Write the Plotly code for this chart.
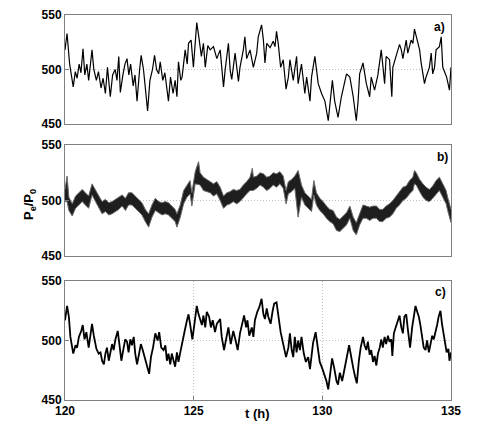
import plotly.graph_objects as go

# ---------------- data ----------------
t_a = [120.00, 120.08, 120.18, 120.25, 120.32, 120.40, 120.47, 120.55, 120.62, 120.70,
       120.77, 120.85, 120.92, 121.05, 121.12, 121.22, 121.30, 121.40, 121.48, 121.57,
       121.65, 121.76, 121.85, 121.95, 122.02, 122.09, 122.15, 122.25, 122.33, 122.41,
       122.48, 122.55, 122.65, 122.72, 122.80, 122.90, 122.96, 123.05, 123.12, 123.21,
       123.30, 123.40, 123.48, 123.56, 123.64, 123.70, 123.80, 123.88, 124.02, 124.10,
       124.20, 124.28, 124.35, 124.41, 124.50, 124.55, 124.67, 124.75, 124.80, 124.90,
       124.99, 125.05, 125.12, 125.20, 125.30, 125.38, 125.45, 125.55, 125.64, 125.77,
       125.90, 126.03, 126.16, 126.22, 126.35, 126.42, 126.48, 126.61, 126.74, 126.80,
       126.93, 126.99, 127.06, 127.19, 127.32, 127.45, 127.51, 127.64, 127.71, 127.77,
       127.84, 127.97, 128.09, 128.16, 128.22, 128.29, 128.38, 128.48, 128.59, 128.68,
       128.74, 128.87, 129.00, 129.06, 129.19, 129.32, 129.39, 129.52, 129.58, 129.71,
       129.84, 129.97, 130.10, 130.23, 130.29, 130.39, 130.48, 130.61, 130.74, 130.87,
       130.94, 131.07, 131.20, 131.32, 131.39, 131.45, 131.58, 131.71, 131.84, 131.90,
       132.03, 132.16, 132.29, 132.42, 132.48, 132.61, 132.70, 132.74, 132.87, 133.00,
       133.07, 133.13, 133.26, 133.32, 133.45, 133.52, 133.58, 133.65, 133.78, 133.84,
       133.97, 134.03, 134.16, 134.23, 134.29, 134.36, 134.42, 134.55, 134.62, 134.68,
       134.74, 134.83, 134.94, 135.00]
p_a = [518, 533, 505, 496, 484, 498, 492, 505, 497, 519,
       495, 505, 490, 518, 500, 490, 498, 483, 492, 478,
       502, 475, 495, 500, 490, 512, 479, 495, 505, 510,
       495, 505, 485, 495, 471, 500, 513, 500, 485, 462,
       490, 500, 513, 500, 496, 507, 490, 497, 471, 493,
       478, 490, 475, 507, 490, 493, 518, 505, 524, 527,
       502, 518, 543, 530, 512, 524, 502, 522, 518, 521,
       510, 518, 484, 499, 524, 499, 491, 515, 489, 502,
       518, 530, 510, 518, 502, 515, 530, 541, 527, 506,
       524, 520, 526, 521, 535, 523, 502, 509, 482, 493,
       509, 490, 512, 487, 505, 478, 493, 471, 493, 512,
       487, 478, 471, 453, 465, 490, 471, 456, 475, 487,
       496, 493, 475, 453, 471, 496, 506, 487, 475, 493,
       481, 495, 518, 487, 512, 509, 475, 502, 512, 523,
       518, 510, 527, 515, 527, 524, 537, 530, 518, 506,
       487, 493, 502, 515, 496, 502, 518, 521, 530, 502,
       499, 493, 481, 502]

t_b = [120.00, 120.08, 120.15, 120.28, 120.41, 120.54, 120.67, 120.79, 120.92, 121.05,
       121.18, 121.31, 121.44, 121.57, 121.70, 121.83, 121.96, 122.09, 122.22, 122.35,
       122.47, 122.60, 122.73, 122.86, 122.99, 123.12, 123.25, 123.38, 123.51, 123.64,
       123.77, 123.90, 124.02, 124.15, 124.28, 124.35, 124.48, 124.61, 124.74, 124.86,
       124.93, 125.06, 125.19, 125.25, 125.38, 125.51, 125.64, 125.77, 125.90, 126.03,
       126.16, 126.29, 126.42, 126.54, 126.67, 126.80, 126.93, 127.06, 127.19, 127.28,
       127.32, 127.45, 127.58, 127.71, 127.84, 127.97, 128.09, 128.22, 128.35, 128.48,
       128.59, 128.68, 128.81, 128.93, 129.06, 129.19, 129.32, 129.45, 129.58, 129.67,
       129.77, 129.90, 130.03, 130.16, 130.29, 130.42, 130.55, 130.68, 130.81, 130.94,
       131.07, 131.20, 131.32, 131.45, 131.58, 131.71, 131.84, 131.97, 132.10, 132.23,
       132.35, 132.48, 132.61, 132.74, 132.87, 133.00, 133.13, 133.26, 133.39, 133.52,
       133.58, 133.65, 133.78, 133.91, 134.03, 134.16, 134.29, 134.42, 134.55, 134.68,
       134.81, 134.87, 134.94, 135.00]
p_b_hi = [510, 522, 503, 497, 504, 507, 510, 507, 504, 515,
          510, 504, 499, 501, 498, 499, 501, 503, 505, 502,
          507, 507, 504, 501, 498, 492, 488, 496, 502, 499,
          498, 499, 498, 495, 492, 488, 496, 509, 514, 518,
          507, 526, 535, 525, 521, 519, 517, 515, 517, 512,
          504, 507, 508, 510, 509, 510, 514, 517, 521, 529,
          521, 522, 525, 524, 521, 522, 525, 524, 526, 522,
          509, 517, 519, 522, 527, 514, 507, 504, 501, 518,
          507, 502, 499, 495, 492, 491, 485, 483, 486, 489,
          495, 485, 480, 489, 496, 495, 494, 495, 495, 492,
          492, 495, 497, 500, 504, 507, 512, 513, 518, 521,
          527, 525, 519, 515, 512, 510, 513, 518, 521, 515,
          509, 503, 497, 492]
p_b_lo = [499, 499, 491, 486, 493, 496, 499, 496, 493, 505,
          499, 493, 488, 490, 487, 488, 490, 492, 495, 491,
          496, 496, 493, 490, 487, 481, 476, 485, 491, 489,
          487, 488, 487, 484, 481, 476, 485, 497, 503, 506,
          495, 515, 514, 514, 509, 508, 507, 504, 506, 500,
          493, 496, 497, 499, 497, 499, 503, 506, 509, 509,
          509, 511, 514, 512, 509, 511, 514, 512, 515, 511,
          497, 506, 508, 511, 485, 503, 496, 493, 490, 505,
          496, 491, 488, 484, 481, 479, 473, 472, 475, 478,
          484, 473, 469, 478, 484, 484, 482, 484, 484, 481,
          481, 484, 485, 488, 493, 496, 500, 502, 506, 509,
          515, 514, 508, 503, 500, 499, 502, 506, 509, 503,
          497, 491, 485, 480]

t_c = [120.00, 120.08, 120.15, 120.21, 120.32, 120.41, 120.47, 120.54, 120.63, 120.69,
       120.76, 120.83, 120.92, 120.99, 121.05, 121.12, 121.22, 121.31, 121.38, 121.44,
       121.51, 121.57, 121.63, 121.70, 121.76, 121.83, 121.89, 121.96, 122.05, 122.13,
       122.19, 122.28, 122.34, 122.41, 122.47, 122.54, 122.60, 122.67, 122.73, 122.80,
       122.89, 122.95, 123.02, 123.12, 123.18, 123.27, 123.34, 123.42, 123.51, 123.60,
       123.66, 123.74, 123.83, 123.90, 123.96, 124.02, 124.09, 124.15, 124.22, 124.28,
       124.35, 124.41, 124.48, 124.57, 124.65, 124.74, 124.80, 124.86, 124.95, 125.03,
       125.12, 125.19, 125.25, 125.32, 125.38, 125.45, 125.51, 125.60, 125.67, 125.74,
       125.83, 125.90, 126.03, 126.09, 126.18, 126.26, 126.35, 126.44, 126.54, 126.63,
       126.71, 126.80, 126.87, 126.96, 127.04, 127.09, 127.16, 127.26, 127.32, 127.38,
       127.47, 127.55, 127.64, 127.71, 127.77, 127.84, 127.90, 127.99, 128.07, 128.13,
       128.22, 128.29, 128.38, 128.48, 128.59, 128.68, 128.74, 128.81, 128.87, 128.93,
       129.00, 129.06, 129.13, 129.19, 129.28, 129.36, 129.45, 129.52, 129.58, 129.64,
       129.74, 129.81, 129.90, 129.99, 130.07, 130.16, 130.23, 130.29, 130.38, 130.46,
       130.55, 130.61, 130.68, 130.77, 130.87, 130.96, 131.04, 131.11, 131.20, 131.27,
       131.34, 131.42, 131.49, 131.58, 131.64, 131.71, 131.77, 131.84, 131.90, 131.97,
       132.03, 132.10, 132.16, 132.23, 132.29, 132.35, 132.42, 132.48, 132.55, 132.61,
       132.68, 132.72, 132.78, 132.85, 132.94, 133.00, 133.07, 133.13, 133.19, 133.26,
       133.32, 133.41, 133.49, 133.56, 133.62, 133.69, 133.75, 133.81, 133.88, 133.94,
       134.01, 134.07, 134.14, 134.20, 134.27, 134.33, 134.40, 134.46, 134.52, 134.59,
       134.65, 134.71, 134.77, 134.83, 134.90, 134.94, 135.00]
p_c = [517, 529, 520, 503, 489, 496, 494, 503, 508, 513,
       501, 507, 494, 504, 514, 504, 493, 489, 490, 483,
       480, 489, 494, 483, 490, 497, 492, 501, 508, 494,
       483, 494, 501, 499, 490, 501, 496, 503, 489, 480,
       490, 497, 492, 483, 478, 472, 486, 494, 506, 500,
       507, 494, 492, 496, 483, 489, 480, 489, 483, 478,
       490, 482, 490, 501, 508, 517, 522, 514, 501, 514,
       529, 522, 517, 513, 521, 511, 524, 520, 511, 517,
       507, 514, 518, 503, 492, 501, 511, 497, 508, 500,
       492, 506, 514, 521, 511, 517, 504, 511, 503, 517,
       524, 528, 535, 522, 518, 527, 520, 514, 525, 531,
       532, 520, 507, 497, 486, 494, 506, 492, 486, 503,
       490, 500, 492, 503, 489, 482, 486, 476, 490, 498,
       507, 494, 482, 477, 472, 466, 459, 469, 485, 477,
       466, 463, 473, 466, 479, 487, 496, 486, 477, 470,
       464, 483, 494, 503, 496, 492, 499, 488, 492, 482,
       487, 479, 489, 494, 501, 494, 503, 497, 504, 499,
       501, 487, 506, 511, 517, 521, 511, 506, 520, 522,
       510, 494, 511, 521, 529, 524, 520, 513, 504, 494,
       492, 500, 490, 497, 504, 501, 507, 513, 520, 525,
       514, 506, 497, 490, 493, 483, 490]

x_ticks = [120, 125, 130, 135]
y_ticks = [450, 500, 550]
panel_labels = ["a)", "b)", "c)"]

# ---------------- figure ----------------
FONT = "Liberation Sans, Arial, Helvetica, sans-serif"
BOX = "#808080"
GRID = "#c0c0c0"
W, H, OFF = 498, 435, 8   # the page body adds an 8px offset


def px(x):
    return (x - OFF) / W


def py(y):
    return 1 - (y - OFF) / H


fig = go.Figure()
fig.add_trace(go.Scatter(x=t_a, y=p_a, xaxis="x", yaxis="y", mode="lines",
                         line=dict(color="black", width=1.2)))
fig.add_trace(go.Scatter(x=t_b, y=p_b_lo, xaxis="x2", yaxis="y2", mode="lines",
                         line=dict(color="#6a6a6a", width=1)))
fig.add_trace(go.Scatter(x=t_b, y=p_b_hi, xaxis="x2", yaxis="y2", mode="lines",
                         fill="tonexty", fillcolor="#1e1e1e",
                         line=dict(color="#6a6a6a", width=1)))
fig.add_trace(go.Scatter(x=t_c, y=p_c, xaxis="x3", yaxis="y3", mode="lines",
                         line=dict(color="black", width=1.8)))

xdom = [px(65), px(451)]
ydoms = [[py(124), py(15)],
         [py(256), py(145)],
         [py(400), py(281)]]

tickfont = dict(family=FONT, size=12, color="black", weight="bold")

layout = dict(
    width=W, height=H,
    margin=dict(l=0, r=0, t=0, b=0, pad=0, autoexpand=False),
    paper_bgcolor="white", plot_bgcolor="white",
    showlegend=False,
)
for i in range(3):
    sx = "" if i == 0 else str(i + 1)
    last = (i == 2)
    layout["xaxis" + sx] = dict(
        domain=xdom, anchor="y" + sx, range=[120, 135],
        tickvals=x_ticks, showticklabels=last,
        ticks="inside" if last else "", ticklen=4, tickcolor=BOX,
        showline=True, linecolor=BOX, linewidth=1, mirror=True,
        showgrid=last, gridcolor=GRID, griddash="1px,2px", gridwidth=1,
        zeroline=False, tickfont=tickfont, automargin=False,
    )
    layout["yaxis" + sx] = dict(
        domain=ydoms[i], anchor="x" + sx, range=[450, 550],
        tickvals=y_ticks, ticks="inside", ticklen=4, tickcolor=BOX,
        showline=True, linecolor=BOX, linewidth=1, mirror=True,
        showgrid=True, gridcolor=GRID, griddash="1px,2px", gridwidth=1,
        zeroline=False, tickfont=tickfont, automargin=False,
    )
fig.update_layout(**layout)

lab_pos = [(439, 27), (442, 157), (440, 292)]
for lab, (xx, yy) in zip(panel_labels, lab_pos):
    fig.add_annotation(x=px(xx), y=py(yy), xref="paper", yref="paper", text="<b>" + lab + "</b>",
                       xanchor="center", yanchor="middle",
                       showarrow=False, font=dict(family=FONT, size=12, color="black"))

fig.add_annotation(x=px(29), y=py(205), xref="paper", yref="paper",
                   text="<b>P<sub>e</sub>/P<sub>0</sub></b>", textangle=-90, showarrow=False,
                   xanchor="center", yanchor="middle",
                   font=dict(family=FONT, size=13, color="black"))
fig.add_annotation(x=px(257), y=py(413), xref="paper", yref="paper",
                   text="<b>t (h)</b>", showarrow=False,
                   xanchor="center", yanchor="middle",
                   font=dict(family=FONT, size=13, color="black"))

fig.write_html("out.html")
